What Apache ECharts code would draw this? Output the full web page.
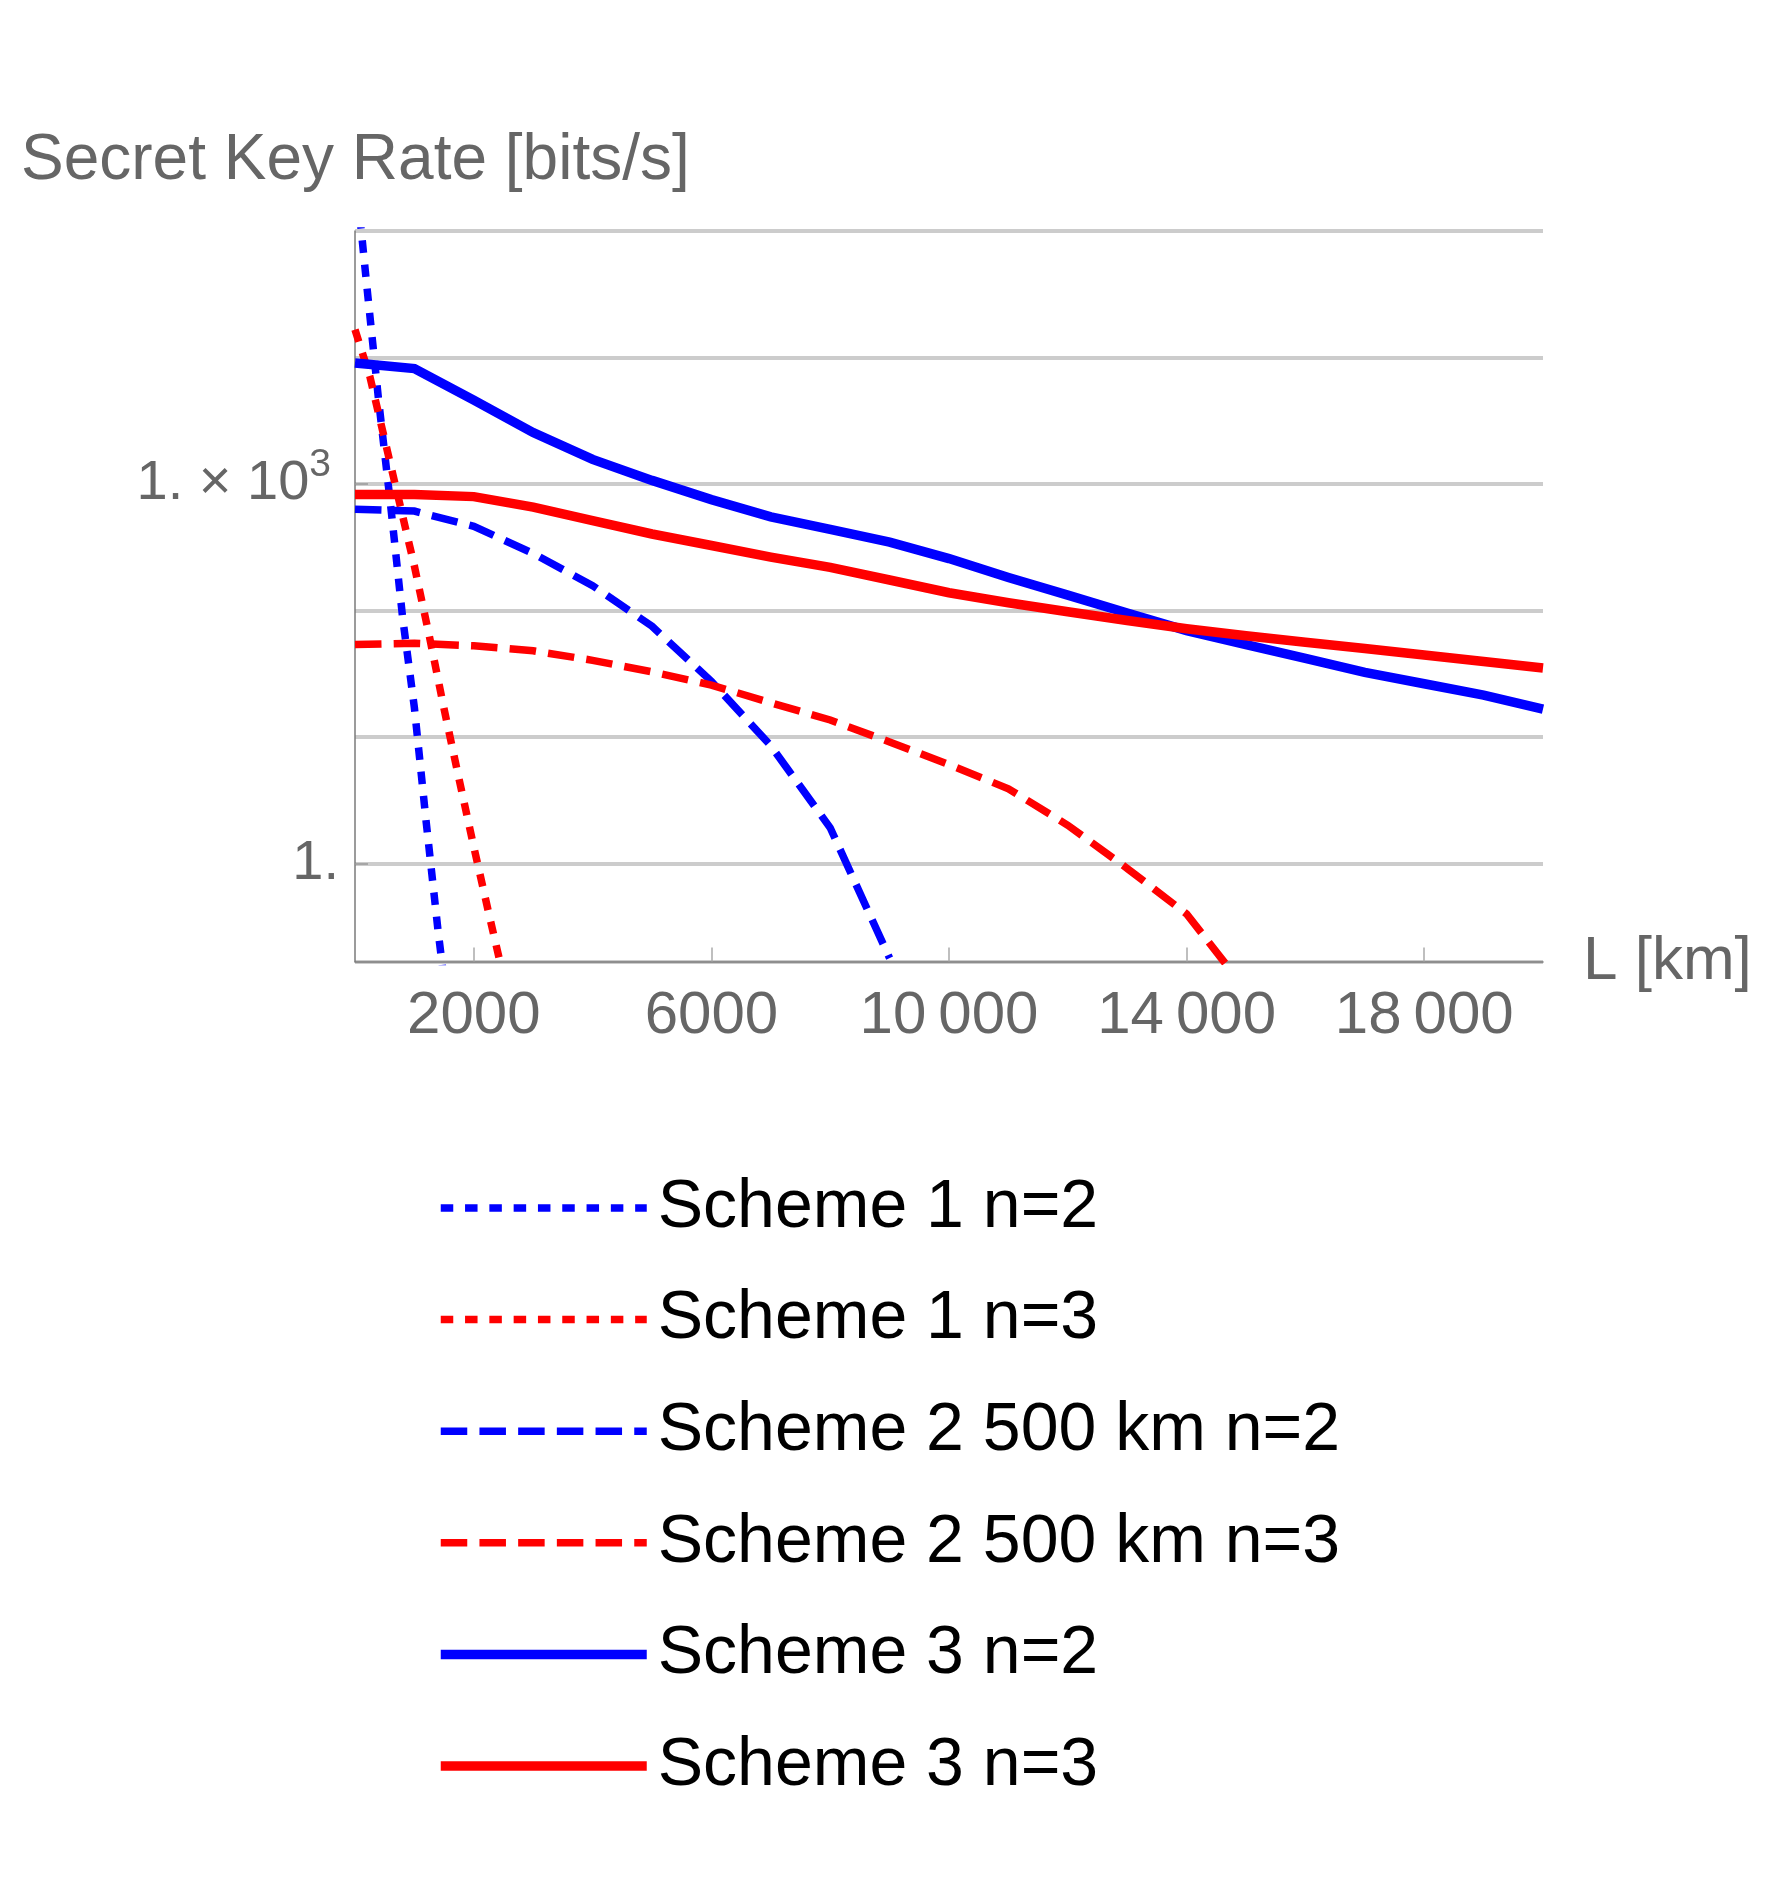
<!DOCTYPE html>
<html>
<head>
<meta charset="utf-8">
<script src="https://cdn.jsdelivr.net/npm/echarts@6/dist/echarts.min.js"></script>
<style>
  html, body { margin: 0; padding: 0; background: #ffffff; }
  #chart { width: 1772px; height: 1890px; }
</style>
</head>
<body>
<div id="chart"></div>
<script>
// ---- data (distance L in km, secret key rate in bits/s) ----
const distS1n2 = [0, 200, 400, 600, 800, 1000, 1200, 1400, 1600];
const rateS1n2 = [316000, 36300, 4470, 676, 89.1, 17.0, 2.09, 0.288, 0.05];

const distS1n3 = [0, 250, 500, 750, 1000, 1250, 1500, 1750, 2000, 2250, 2500];
const rateS1n3 = [16600, 7080, 2240, 708, 224, 63.1, 16.6, 4.68, 1.35, 0.407, 0.126];

const distS2n2 = [0, 1000, 2000, 3000, 4000, 5000, 6000, 7000, 8000, 9000];
const rateS2n2 = [631, 610, 462, 282, 157, 75.0, 27.5, 8.51, 1.91, 0.178];

const distS2n3 = [0, 1000, 2000, 3000, 4000, 5000, 6000, 7000, 8000, 9000, 10000, 11000, 12000, 13000, 14000, 15000];
const rateS2n3 = [53.7, 55.0, 52.5, 47.9, 40.3, 32.7, 25.7, 18.6, 13.6, 9.12, 6.03, 3.89, 2.0, 0.912, 0.398, 0.1];

const distS3 = [0, 1000, 2000, 3000, 4000, 5000, 6000, 7000, 8000, 9000, 10000, 11000, 12000, 13000, 14000, 15000, 16000, 17000, 18000, 19000, 20000];
const rateS3n2 = [9057, 8166, 4603, 2547, 1563, 1067, 752, 550, 437, 347, 257, 182, 132, 95.5, 69.2, 53.7, 41.7, 32.4, 26.3, 21.4, 16.6];
const rateS3n3 = [824, 824, 794, 655, 513, 402, 326, 264, 219, 174, 138, 115, 97.7, 83.2, 71.6, 63.1, 56.0, 49.9, 44.4, 39.4, 35.1];

const seriesNames = ['Scheme 1 n=2', 'Scheme 1 n=3', 'Scheme 2 500 km n=2', 'Scheme 2 500 km n=3', 'Scheme 3 n=2', 'Scheme 3 n=3'];

const xTickValues = [2000, 6000, 10000, 14000, 18000];
const xTickLabels = ['2000', '6000', '10\u2009000', '14\u2009000', '18\u2009000'];
const yTickValues = [1, 1000];

const titleText = 'Secret Key Rate [bits/s]';
const xAxisName = 'L [km]';

// ---- chart ----
const FONT = 'Liberation Sans';
const BLUE = '#0000ff';
const RED = '#ff0000';
const GREY = '#666666';
const LW_SOLID = 9.5;
const LW_DASH = 7.5;
const DOT = [12.5, 11.8];
const DASH = [26.5, 12.2];

function pairs(xs, ys) { return xs.map((x, i) => [x, ys[i]]); }

function mkSeries(name, xs, ys, color, dash) {
  const solid = !dash;
  return {
    name: name,
    type: 'line',
    yAxisIndex: 0,
    data: pairs(xs, ys),
    showSymbol: false,
    symbol: 'none',
    clip: true,
    animation: false,
    lineStyle: { color: color, width: solid ? LW_SOLID : LW_DASH, type: dash || 'solid', cap: 'butt', join: 'miter' },
    itemStyle: { color: color }
  };
}

const yMin = 0.1675;
const yMax = 100000;

const chart = echarts.init(document.getElementById('chart'), null, { renderer: 'canvas' });

chart.setOption({
  backgroundColor: '#ffffff',
  animation: false,
  title: {
    text: titleText,
    left: 16,
    top: 124,
    textStyle: { fontFamily: FONT, fontSize: 64, fontWeight: 'normal', color: GREY }
  },
  grid: { left: 355, right: 229, top: 231, bottom: 928.5, containLabel: false },
  xAxis: {
    type: 'value',
    min: 0,
    max: 20000,
    name: xAxisName,
    nameLocation: 'end',
    nameGap: 40,
    nameTextStyle: { fontFamily: FONT, fontSize: 62, color: GREY, align: 'left', verticalAlign: 'middle' },
    axisLine: { show: true, onZero: false, lineStyle: { color: '#7a7a7a', width: 1.5 } },
    axisTick: { show: true, inside: true, length: 14, customValues: xTickValues, lineStyle: { color: '#aaaaaa', width: 1.5 } },
    axisLabel: {
      show: true,
      margin: 25,
      customValues: xTickValues,
      fontFamily: FONT, fontSize: 60, color: GREY,
      formatter: function (v) {
        const i = xTickValues.indexOf(Math.round(v));
        return i >= 0 ? xTickLabels[i] : '';
      }
    },
    splitLine: { show: false }
  },
  yAxis: [
    {
      type: 'log',
      logBase: 10,
      min: yMin,
      max: yMax,
      axisLine: { show: true, onZero: false, lineStyle: { color: '#7a7a7a', width: 1.5 } },
      axisTick: { show: false },
      axisLabel: {
        show: true,
        margin: 16,
        formatter: function (v) {
          const lg = Math.log10(v);
          const e = Math.round(lg);
          if (Math.abs(lg - e) > 1e-6) return '';
          if (e === 3) return '{m|1. \u00d7 10}{s|3}';
          if (e === 0) return '{u|1.}';
          return '';
        },
        rich: {
          u: { fontFamily: FONT, fontSize: 56, color: GREY, lineHeight: 56 },
          m: { fontFamily: FONT, fontSize: 56, color: GREY, lineHeight: 76, verticalAlign: 'middle' },
          s: { fontFamily: FONT, fontSize: 39, color: GREY, lineHeight: 39, verticalAlign: 'top', padding: [0, 8, 0, 0] }
        }
      },
      splitLine: { show: true, lineStyle: { color: '#cccccc', width: 4 } }
    },
    {
      type: 'log',
      logBase: 10,
      min: yMin,
      max: yMax,
      position: 'left',
      axisLine: { show: false },
      axisLabel: { show: false },
      splitLine: { show: false },
      axisTick: { show: true, inside: true, length: 13, customValues: yTickValues, lineStyle: { color: '#999999', width: 1.5 } }
    }
  ],
  legend: {
    orient: 'vertical',
    left: 431,
    top: 1163,
    itemWidth: 206,
    itemHeight: 20,
    itemGap: 31.6,
    data: seriesNames,
    itemStyle: { color: 'rgba(0,0,0,0)', borderWidth: 0, opacity: 0 },
    lineStyle: { width: 'inherit', type: 'inherit' },
    textStyle: { fontFamily: FONT, fontSize: 68, color: '#000000', lineHeight: 80, padding: [0, 0, 0, 6] }
  },
  series: [
    mkSeries(seriesNames[0], distS1n2, rateS1n2, BLUE, DOT),
    mkSeries(seriesNames[1], distS1n3, rateS1n3, RED, DOT),
    mkSeries(seriesNames[2], distS2n2, rateS2n2, BLUE, DASH),
    mkSeries(seriesNames[3], distS2n3, rateS2n3, RED, DASH),
    mkSeries(seriesNames[4], distS3, rateS3n2, BLUE, null),
    mkSeries(seriesNames[5], distS3, rateS3n3, RED, null)
  ]
});
</script>
</body>
</html>
